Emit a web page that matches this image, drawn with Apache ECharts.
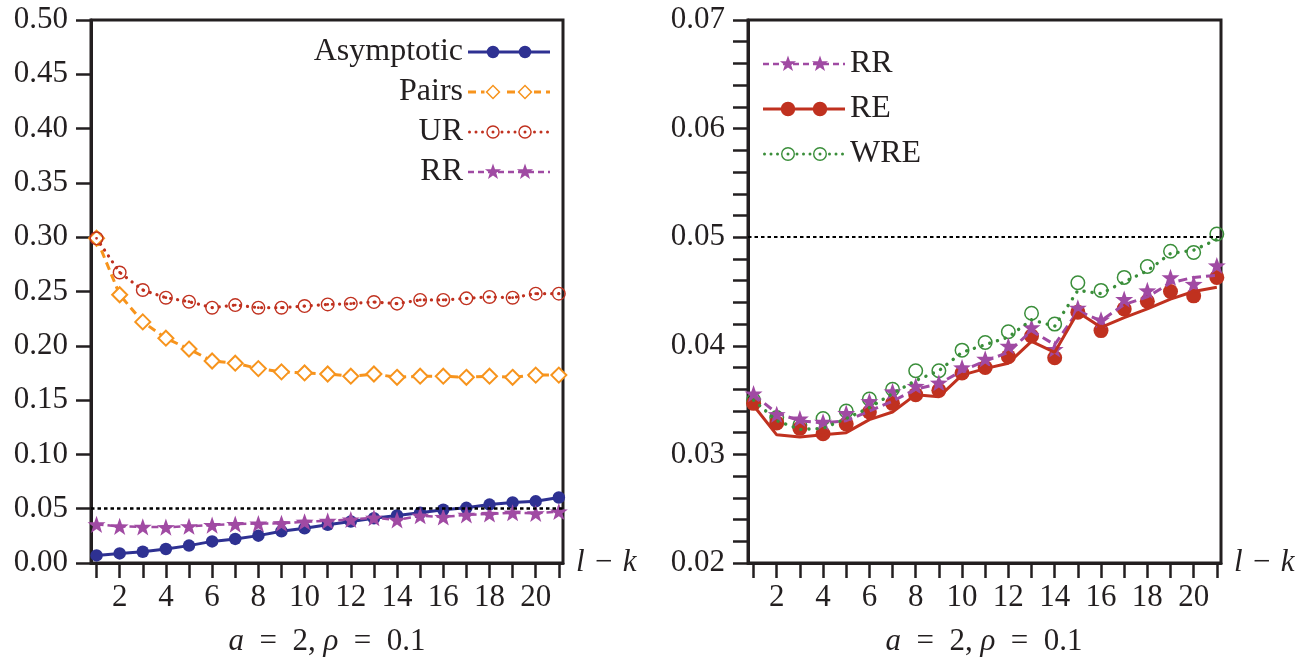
<!DOCTYPE html>
<html>
<head>
<meta charset="utf-8">
<script src="https://cdn.jsdelivr.net/npm/echarts@6/dist/echarts.min.js"></script>
<style>
  html, body { margin: 0; padding: 0; background: #ffffff; }
  #chart { width: 1312px; height: 665px; }
</style>
</head>
<body>
<div id="chart"></div>
<script>
// Lag l - k on the horizontal axis
const lags = [1, 2, 3, 4, 5, 6, 7, 8, 9, 10, 11, 12, 13, 14, 15, 16, 17, 18, 19, 20, 21];
const lagTickLabels = [2, 4, 6, 8, 10, 12, 14, 16, 18, 20];
const nominalLevel = 0.05;

// Left panel: empirical rejection rates
const asymptotic = [0.0070, 0.0088, 0.0104, 0.0129, 0.0160, 0.0199, 0.0222, 0.0252, 0.0292, 0.0320, 0.0352,
                    0.0382, 0.0412, 0.0437, 0.0462, 0.0490, 0.0508, 0.0538, 0.0558, 0.0568, 0.0603];
const pairs = [0.299, 0.247, 0.222, 0.207, 0.197, 0.186, 0.184, 0.179, 0.176, 0.175, 0.174,
               0.172, 0.174, 0.171, 0.172, 0.172, 0.171, 0.172, 0.171, 0.173, 0.173];
const ur = [0.299, 0.2675, 0.2514, 0.2443, 0.2406, 0.2351, 0.2375, 0.2351, 0.2351, 0.2366, 0.2381,
            0.2388, 0.2403, 0.2388, 0.2422, 0.2422, 0.2437, 0.2450, 0.2443, 0.2480, 0.2480];
const rr = [0.0356, 0.0337, 0.0333, 0.0330, 0.0338, 0.0349, 0.0358, 0.0363, 0.0366, 0.0380, 0.0388,
            0.0400, 0.0417, 0.0397, 0.0435, 0.0424, 0.0443, 0.0451, 0.0463, 0.0457, 0.0474];

// Right panel: marks and their connecting curves
const rrCurve = [0.0355, 0.0338, 0.0331, 0.0329, 0.0331, 0.0340, 0.0349, 0.0360, 0.0365, 0.0377, 0.0386,
                 0.0394, 0.0414, 0.0401, 0.0432, 0.0423, 0.0438, 0.0445, 0.0458, 0.0463, 0.0465];
const reMarks = [0.0347, 0.0329, 0.0324, 0.0319, 0.0328, 0.0339, 0.0347, 0.0355, 0.0359, 0.0375, 0.0380,
                 0.0390, 0.0409, 0.0389, 0.0431, 0.0414, 0.0434, 0.0441, 0.0450, 0.0446, 0.0463];
const reCurve = [0.0345, 0.0318, 0.0316, 0.0318, 0.0320, 0.0332, 0.0339, 0.0355, 0.0353, 0.0373, 0.0379,
                 0.0384, 0.0404, 0.0394, 0.0431, 0.0417, 0.0426, 0.0434, 0.0443, 0.0450, 0.0454];
const wreMarks = [0.0350, 0.0334, 0.0327, 0.0333, 0.0340, 0.0351, 0.0360, 0.0377, 0.0377, 0.0396, 0.0403,
                  0.0413, 0.0430, 0.0420, 0.0458, 0.0451, 0.0463, 0.0473, 0.0487, 0.0486, 0.0503];
const wreCurve = [0.0350, 0.0331, 0.0323, 0.0324, 0.0333, 0.0343, 0.0356, 0.0368, 0.0377, 0.0394, 0.0401,
                  0.0408, 0.0424, 0.0418, 0.0451, 0.0448, 0.0459, 0.0469, 0.0485, 0.0488, 0.0498];

const axisTitle = '{i|l}\u2004−\u2004{i|k}';
const panelCaption = '{i|a}\u2002=\u20022, {i|ρ}\u2002=\u20020.1';

const FONT = "'Liberation Serif', 'DejaVu Serif', serif";
const INK = '#231f20';
const NAVY = '#2e3192';
const ORANGE = '#f7941d';
const RED = '#c0311f';
const PURPLE = '#a04aa3';
const GREEN = '#3a8e3a';

const f = v => v.toFixed(2);
const STAR = 'path://M0,-10L2.351,-3.236L9.511,-3.09L3.804,1.236L5.878,8.09L0,4L-5.878,8.09L-3.804,1.236L-9.511,-3.09L-2.351,-3.236Z';
const RING = 'path://M0,-10A10,10,0,1,1,0,10A10,10,0,1,1,0,-10ZM0,-8A8,8,0,1,0,0,8A8,8,0,1,0,0,-8Z';
const RING_DOT = RING + 'M0,-2A2,2,0,1,1,0,2A2,2,0,1,1,0,-2Z';

// --- legend samples: a stroke pattern with two marks, as one filled path ---
const disc = (cx, cy, r) => `M${f(cx)},${f(cy - r)}A${f(r)},${f(r)},0,1,1,${f(cx)},${f(cy + r)}A${f(r)},${f(r)},0,1,1,${f(cx)},${f(cy - r)}Z`;
const hole = (cx, cy, r) => `M${f(cx)},${f(cy - r)}A${f(r)},${f(r)},0,1,0,${f(cx)},${f(cy + r)}A${f(r)},${f(r)},0,1,0,${f(cx)},${f(cy - r)}Z`;
const rect = (x0, x1, cy, w) => `M${f(x0)},${f(cy - w / 2)}L${f(x1)},${f(cy - w / 2)}L${f(x1)},${f(cy + w / 2)}L${f(x0)},${f(cy + w / 2)}Z`;
const markShapes = {
  disc: (cx, cy, s) => disc(cx, cy, s / 2),
  ring: (cx, cy, s) => disc(cx, cy, s / 2) + hole(cx, cy, s / 2 - 1.4),
  ringDot: (cx, cy, s) => disc(cx, cy, s / 2) + hole(cx, cy, s / 2 - 1.4) + disc(cx, cy, 1.5),
  diamond: (cx, cy, s) => {
    const h = s / 2, g = h - 2.1;
    return `M${f(cx)},${f(cy - h)}L${f(cx + h)},${f(cy)}L${f(cx)},${f(cy + h)}L${f(cx - h)},${f(cy)}Z` +
           `M${f(cx)},${f(cy - g)}L${f(cx - g)},${f(cy)}L${f(cx)},${f(cy + g)}L${f(cx + g)},${f(cy)}Z`;
  },
  star: (cx, cy, s) => {
    const pts = [];
    for (let k = 0; k < 10; k++) {
      const a = -Math.PI / 2 + k * Math.PI / 5;
      const r = (k % 2 ? 0.4 : 1) * s / 2;
      pts.push(`${f(cx + r * Math.cos(a))},${f(cy + r * Math.sin(a))}`);
    }
    return 'M' + pts.join('L') + 'Z';
  }
};
function legendSample(opts) {
  const W = 82, H = 18, cy = H / 2;
  const marks = [25, 57];
  const hollow = opts.mark !== 'disc' && opts.mark !== 'star';
  const clear = opts.size / 2 + 1.5;
  const blocked = x => hollow && marks.some(m => Math.abs(x - m) < clear);
  let d = `M0,0M${W},${H}`;
  if (opts.stroke === 'solid') {
    d += rect(0, W, cy, opts.width);
  } else if (opts.stroke === 'dash') {
    for (let x = 0; x < W; x += opts.dash + opts.gap) {
      let a = x, b = Math.min(W, x + opts.dash);
      for (let s = a; s < b; s += 0.5) { if (blocked(s)) { if (s > a) d += rect(a, s, cy, opts.width); a = s + 0.5; } }
      if (b - a > 0.5) d += rect(a, b, cy, opts.width);
    }
  } else {
    for (let x = opts.width / 2; x < W; x += opts.gap) {
      if (!blocked(x)) d += disc(x, cy, opts.width / 2);
    }
  }
  marks.forEach(m => { d += markShapes[opts.mark](m, cy, opts.size); });
  return 'path://' + d;
}

const legendItem = (name, color, opts) => ({
  name, icon: legendSample(opts), itemStyle: { color, borderWidth: 0 }
});

const leftLegend = [
  legendItem('Asymptotic', NAVY, { stroke: 'solid', width: 3, mark: 'disc', size: 12.5 }),
  legendItem('Pairs', ORANGE, { stroke: 'dash', width: 3, dash: 8, gap: 5, mark: 'diamond', size: 15 }),
  legendItem('UR', RED, { stroke: 'dot', width: 3, gap: 6.5, mark: 'ringDot', size: 13.5 }),
  legendItem('RR', PURPLE, { stroke: 'dash', width: 2.5, dash: 6, gap: 4, mark: 'star', size: 17 })
];
const rightLegend = [
  legendItem('RR', PURPLE, { stroke: 'dash', width: 2.5, dash: 6, gap: 4, mark: 'star', size: 17 }),
  legendItem('RE', RED, { stroke: 'solid', width: 3, mark: 'disc', size: 14.5 }),
  legendItem('WRE', GREEN, { stroke: 'dot', width: 3, gap: 6.5, mark: 'ringDot', size: 14 })
];

const pts = vals => lags.map((l, i) => [l, vals[i]]);
const textBase = { fontFamily: FONT, fontSize: 31, color: INK };

function lagAxis(gridIndex) {
  return {
    type: 'value', gridIndex, min: 0.76, max: 21.18,
    name: axisTitle, nameLocation: 'end', nameGap: 13,
    nameTextStyle: Object.assign({}, textBase, {
      rich: { i: Object.assign({}, textBase, { fontStyle: 'italic' }) }
    }),
    axisLine: { show: true, onZero: false, lineStyle: { color: INK, width: 3 } },
    axisTick: { show: true, customValues: lags, length: 15, lineStyle: { color: INK, width: 2.5 } },
    axisLabel: Object.assign({ customValues: lagTickLabels, margin: 19 }, textBase),
    splitLine: { show: false }
  };
}

function levelAxis(gridIndex, min, max, interval, formatter) {
  return {
    type: 'value', gridIndex, min, max, interval,
    axisLine: { show: true, onZero: false, lineStyle: { color: INK, width: 3 } },
    axisTick: { show: true, length: 15, lineStyle: { color: INK, width: 2.5 } },
    axisLabel: Object.assign({ margin: 23, formatter }, textBase),
    splitLine: { show: false }
  };
}

const nominalLine = width => ({
  silent: true, symbol: ['none', 'none'],
  label: { show: false },
  lineStyle: { color: '#000', width, type: [3.5, 3] },
  data: [{ yAxis: nominalLevel }]
});

const legendText = { fontFamily: FONT, fontSize: 32, color: INK, lineHeight: 31 };

const option = {
  animation: false,
  backgroundColor: '#ffffff',
  grid: [
    { left: 91, top: 20, width: 472, height: 543, show: true, borderColor: INK, borderWidth: 3 },
    { left: 748, top: 20, width: 473, height: 543, show: true, borderColor: INK, borderWidth: 3 }
  ],
  xAxis: [lagAxis(0), lagAxis(1)],
  yAxis: [
    levelAxis(0, 0, 0.5, 0.05, v => v.toFixed(2)),
    levelAxis(1, 0.02, 0.07, 0.002, v => (Math.abs(v * 100 - Math.round(v * 100)) < 1e-6 ? v.toFixed(2) : ''))
  ],
  legend: [
    {
      data: leftLegend, orient: 'vertical', align: 'right', right: 757, top: 31,
      itemWidth: 82, itemHeight: 18, itemGap: 8, selectedMode: false, symbolKeepAspect: true, textStyle: legendText
    },
    {
      data: rightLegend, orient: 'vertical', align: 'left', left: 758, top: 43,
      itemWidth: 82, itemHeight: 18, itemGap: 13, selectedMode: false, symbolKeepAspect: true, textStyle: legendText
    }
  ],
  graphic: [327, 984].map(cx => ({
    type: 'text', x: cx, y: 642, silent: true,
    style: {
      text: panelCaption, fontFamily: FONT, fontSize: 31, fill: INK,
      align: 'center', verticalAlign: 'middle',
      rich: { i: { fontFamily: FONT, fontSize: 31, fontStyle: 'italic', fill: INK } }
    }
  })),
  series: [
    // Left panel
    {
      name: 'Asymptotic', type: 'line', xAxisIndex: 0, yAxisIndex: 0, data: pts(asymptotic),
      symbol: 'circle', symbolSize: 12.5,
      lineStyle: { color: NAVY, width: 3 }, itemStyle: { color: NAVY },
      markLine: nominalLine(2.5)
    },
    {
      name: 'Pairs', type: 'line', xAxisIndex: 0, yAxisIndex: 0, data: pts(pairs),
      symbol: 'emptyDiamond', symbolSize: 15,
      lineStyle: { color: ORANGE, width: 3, type: [8, 5] }, itemStyle: { color: ORANGE, borderWidth: 1.5 }
    },
    {
      name: 'UR', type: 'line', xAxisIndex: 0, yAxisIndex: 0, data: pts(ur),
      symbol: RING_DOT, symbolSize: 14, symbolKeepAspect: true,
      lineStyle: { color: RED, width: 3.2, type: [0.1, 7], cap: 'round' }, itemStyle: { color: RED }
    },
    {
      name: 'RR', type: 'line', xAxisIndex: 0, yAxisIndex: 0, data: pts(rr),
      symbol: STAR, symbolSize: 18, symbolKeepAspect: true,
      lineStyle: { color: PURPLE, width: 2.5, type: [7, 4] }, itemStyle: { color: PURPLE }
    },
    // Right panel: curves
    {
      name: 'RR', type: 'line', xAxisIndex: 1, yAxisIndex: 1, data: pts(rrCurve),
      showSymbol: false, symbol: STAR, symbolSize: 18,
      lineStyle: { color: PURPLE, width: 3, type: [9, 5] }, itemStyle: { color: PURPLE },
      markLine: nominalLine(2)
    },
    {
      name: 'RE', type: 'line', xAxisIndex: 1, yAxisIndex: 1, data: pts(reCurve),
      showSymbol: false, symbol: 'circle', symbolSize: 15,
      lineStyle: { color: RED, width: 3 }, itemStyle: { color: RED }
    },
    {
      name: 'WRE', type: 'line', xAxisIndex: 1, yAxisIndex: 1, data: pts(wreCurve),
      showSymbol: false, symbol: RING_DOT, symbolSize: 15,
      lineStyle: { color: GREEN, width: 3.4, type: [0.1, 8], cap: 'round' }, itemStyle: { color: GREEN }
    },
    // Right panel: marks
    {
      name: 'WRE', type: 'scatter', xAxisIndex: 1, yAxisIndex: 1, data: pts(wreMarks),
      symbol: RING, symbolSize: 15, symbolKeepAspect: true, itemStyle: { color: GREEN, opacity: 1 }
    },
    {
      name: 'RE', type: 'scatter', xAxisIndex: 1, yAxisIndex: 1, data: pts(reMarks),
      symbol: 'circle', symbolSize: 15, itemStyle: { color: RED, opacity: 1 }
    },
    {
      name: 'RR', type: 'scatter', xAxisIndex: 1, yAxisIndex: 1, data: pts(rr),
      symbol: STAR, symbolSize: 18, symbolKeepAspect: true, itemStyle: { color: PURPLE, opacity: 1 }
    }
  ]
};

const chart = echarts.init(document.getElementById('chart'), null, { renderer: 'canvas' });
chart.setOption(option);
</script>
</body>
</html>
